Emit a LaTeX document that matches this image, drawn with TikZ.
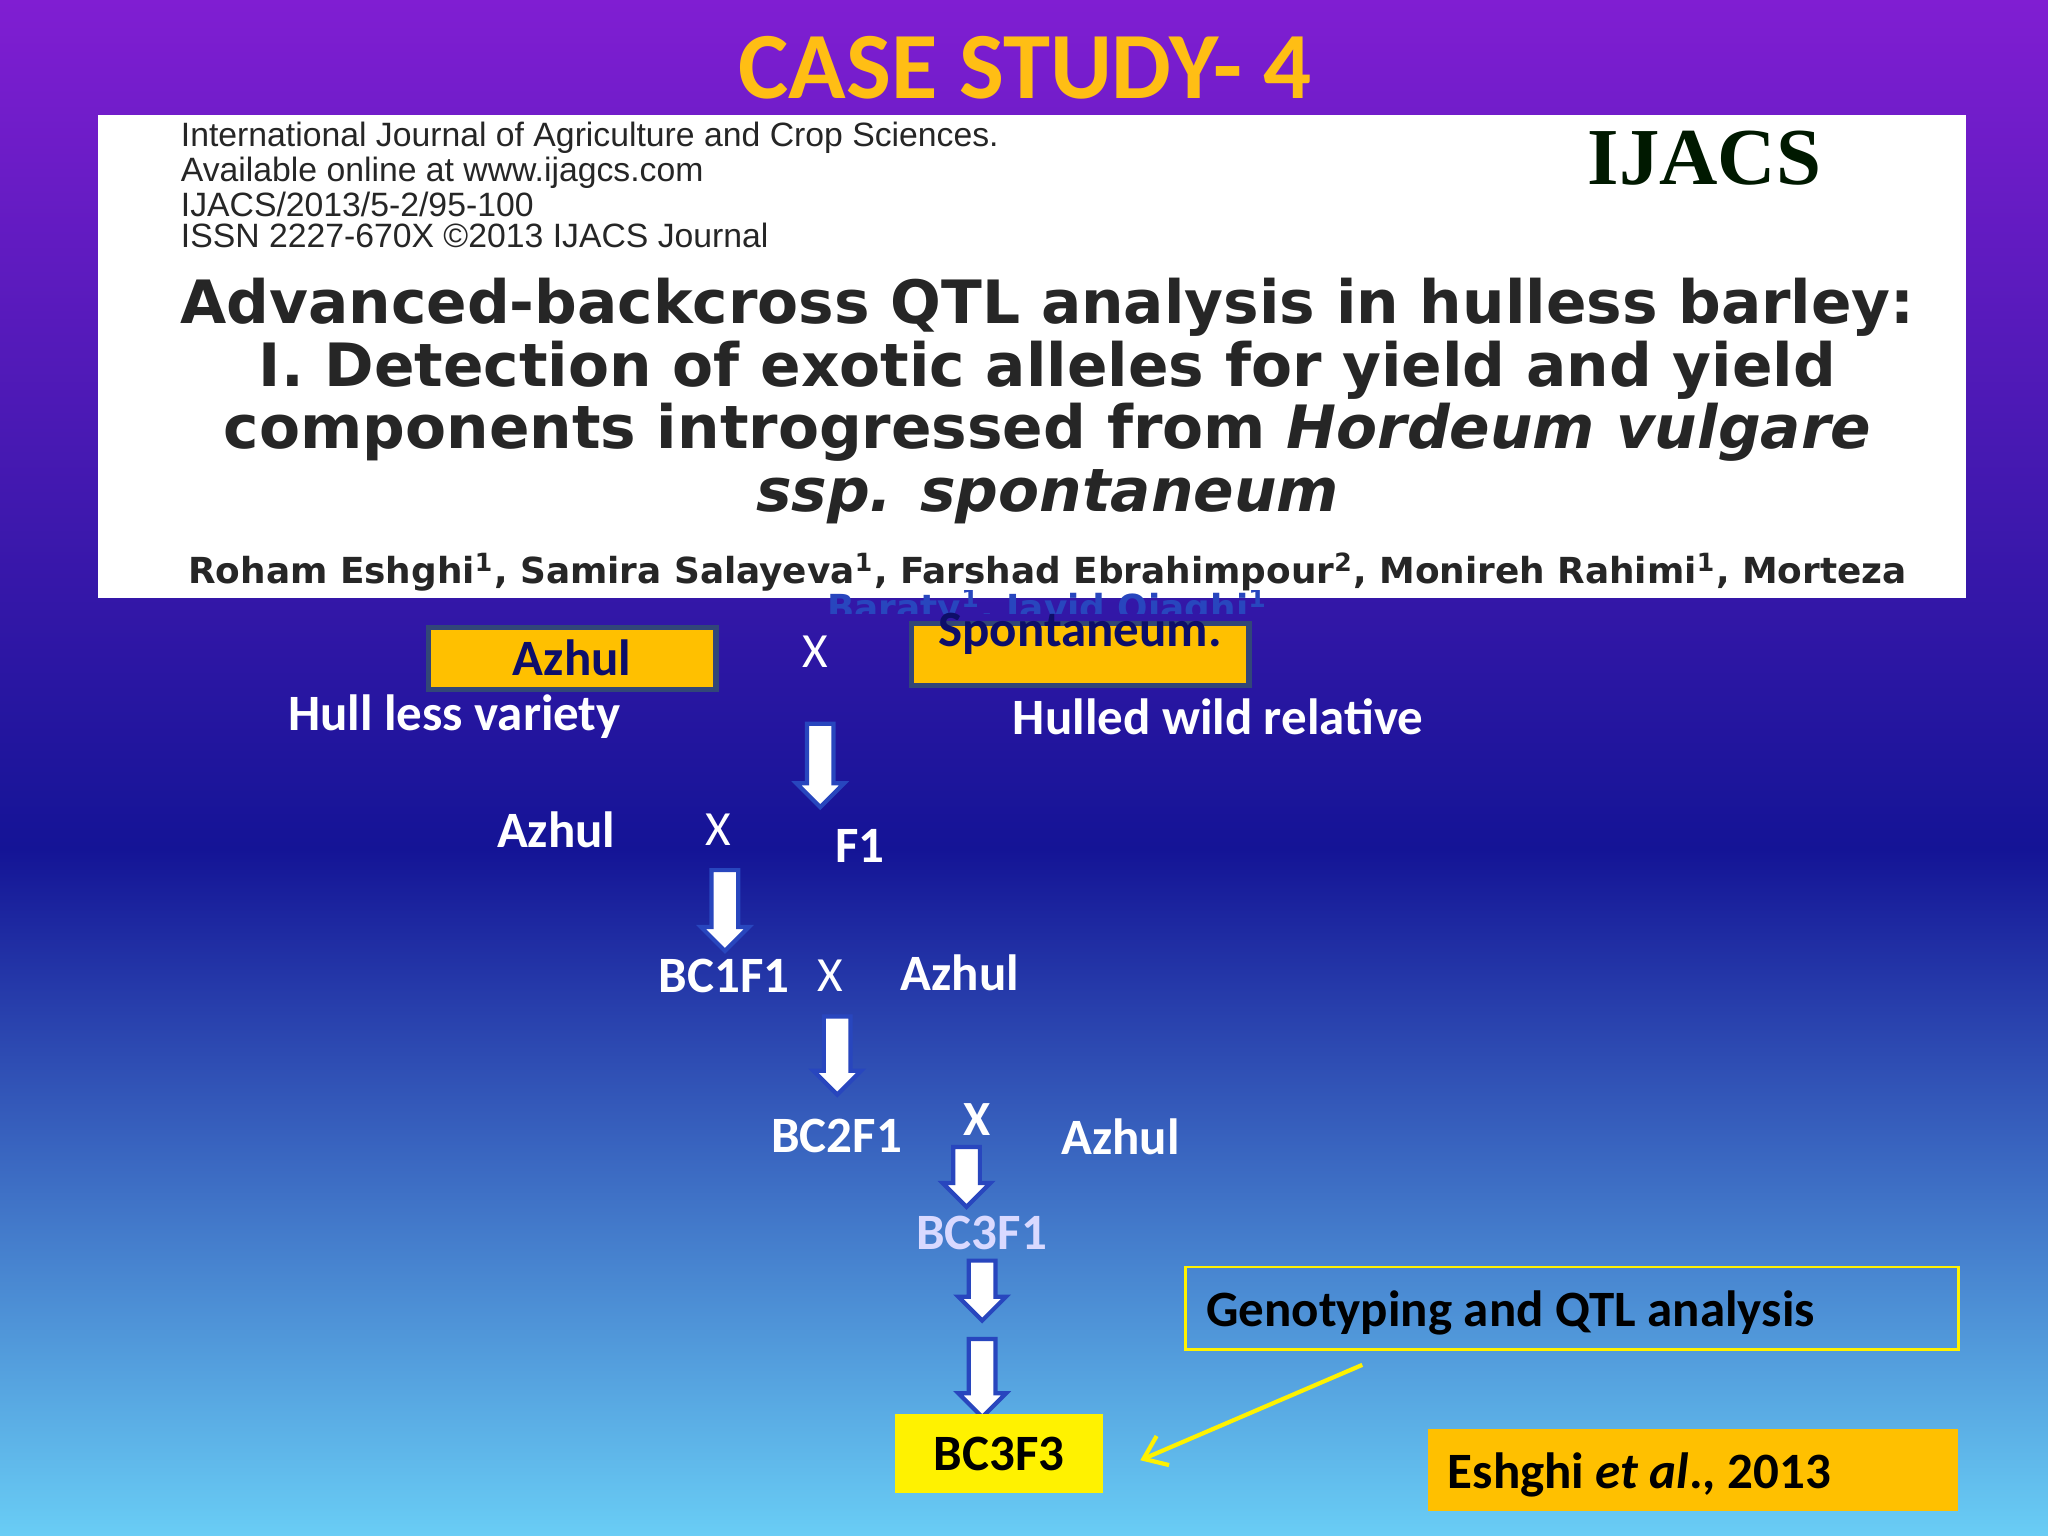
\documentclass[tikz,border=0pt]{standalone}
\usepackage{fontspec}
\setmainfont{Carlito}
\newfontfamily\paperfont{Liberation Sans}
\newfontfamily\widefont{DejaVu Sans}
\newfontfamily\serfont{Liberation Serif}
\usetikzlibrary{shapes.arrows,arrows.meta}
\definecolor{gold}{RGB}{255,192,0}
\definecolor{ttl}{RGB}{255,190,20}
\definecolor{purp}{RGB}{128,30,210}
\definecolor{dblue}{RGB}{20,20,150}
\definecolor{lblue}{RGB}{105,205,245}
\definecolor{mblue}{RGB}{40,70,190}
\definecolor{bordr}{RGB}{50,70,120}
\begin{document}
\begin{tikzpicture}[x=0.013061cm,y=-0.013061cm,
  lab/.style={text=white,font=\fontsize{14.5}{17}\selectfont\bfseries,anchor=west,inner sep=0},
  xx/.style={text=white,font=\fontsize{14}{17}\selectfont,inner sep=0},
  darr/.style={single arrow,draw=mblue,line width=1.2pt,fill=white,shape border rotate=270,
     single arrow head extend=3pt,minimum width=13pt,inner sep=3.2pt,single arrow tip angle=90},
  pap/.style={font=\paperfont\fontsize{9.6}{8.9}\selectfont,anchor=north west,align=left,inner sep=0,text=black!85}]
\useasboundingbox (0,0) rectangle (1568,1176);
\shade[top color=purp,bottom color=dblue] (0,0) rectangle (1568,650);
\shade[top color=dblue,bottom color=lblue] (0,650) rectangle (1568,1176);
% title
\node[text=ttl,font=\fontsize{27}{30}\selectfont\bfseries] (title) at (785,52) {CASE STUDY- 4};
% paper
\fill[white] (75,88) rectangle (1505,458);
\node[pap] (hdr) at (138,93) {International Journal of Agriculture and Crop Sciences.\\Available online at www.ijagcs.com\\IJACS/2013/5-2/95-100\\ISSN 2227-670X \textcopyright2013 IJACS Journal};
\node[font=\serfont\fontsize{23}{26}\selectfont\bfseries,text=black!75!green!40!black] (ijacs) at (1305,121) {IJACS};
\node[font=\widefont\fontsize{17}{17.8}\selectfont\bfseries,align=center,inner sep=0,text=black!85] (ptitle) at (802,307)
 {Advanced-backcross QTL analysis in hulless barley:\\I. Detection of exotic alleles for yield and yield\\components introgressed from \textit{Hordeum vulgare}\\\textit{ssp. spontaneum}};
\node[font=\widefont\fontsize{10.2}{11}\selectfont\bfseries,inner sep=0,text=black!85] (auth) at (802,438)
 {Roham Eshghi\textsuperscript{1}, Samira Salayeva\textsuperscript{1}, Farshad Ebrahimpour\textsuperscript{2}, Monireh Rahimi\textsuperscript{1}, Morteza};
\begin{scope}
\clip (0,452) rectangle (1568,470);
\node[font=\widefont\fontsize{10.2}{11}\selectfont\bfseries,inner sep=0,text=mblue] (auth2) at (802,466) {Baraty\textsuperscript{1}, Javid Ojaghi\textsuperscript{1}};
\end{scope}
% parents
\node[draw=bordr,line width=1.5pt,fill=gold,minimum width=221*0.3706pt,minimum height=17.6pt,inner sep=0,
  font=\fontsize{14.5}{17}\selectfont\bfseries,text=dblue!70!black] (azb) at (438,504) {Azhul};
\node[draw=bordr,line width=1.5pt,fill=gold,minimum width=96pt,minimum height=17.6pt,inner sep=0] (spb) at (827,501) {};
\node[font=\fontsize{14.5}{17}\selectfont\bfseries,text=dblue!70!black,inner sep=0] (spt) at (827,485) {Spontaneum.};
\node[xx] (x1) at (624,499) {X};
\node[lab] (hl) at (220,549) {Hull less variety};
\node[lab] (hw) at (775,549) {Hulled wild relative};
\node[darr,minimum height=64*0.3706pt] (a1) at (628,581) {};
\node[lab] (az2) at (380,635) {Azhul};
\node[xx] (x2) at (550,635) {X};
\node[lab] (f1) at (639,648) {F1};
\node[darr,minimum height=62*0.3706pt] (a2) at (555,692) {};
\node[lab] (bc1) at (504,747) {BC1F1};
\node[xx] (x3) at (636,747) {X};
\node[lab] (az3) at (689,745) {Azhul};
\node[darr,minimum height=60*0.3706pt] (a3) at (641,803) {};
\node[lab] (bc2) at (590,870) {BC2F1};
\node[xx,font=\fontsize{14}{17}\selectfont\bfseries] (x4) at (748,857) {X};
\node[lab] (az4) at (812,870) {Azhul};
\node[darr,minimum height=46*0.3706pt] (a4) at (740,896) {};
\node[lab,text=white!85!blue] (bc3) at (701,944) {BC3F1};
\node[darr,minimum height=46*0.3706pt] (a5) at (752,983) {};
\node[darr,minimum height=60*0.3706pt] (a6) at (752,1050) {};
\node[fill=yellow,minimum width=160*0.3706pt,minimum height=61*0.3706pt,inner sep=0,
  font=\fontsize{14.5}{17}\selectfont\bfseries,text=black] (bc33) at (765,1113) {BC3F3};
\node[draw=yellow,line width=0.8pt,minimum width=593*0.3706pt,minimum height=63*0.3706pt,inner sep=0] (geno) at (1203.5,1001.5) {};
\node[anchor=west,inner sep=0,font=\fontsize{14.5}{17}\selectfont\bfseries,text=black] (genot) at (923,1005) {Genotyping and QTL analysis};
\coordinate (gs) at (1043,1045);
\coordinate (ge) at (873,1118);
\draw[yellow,line width=1.2pt,-{Straight Barb[length=6pt,width=9pt]}] (gs) -- (ge);
\node[fill=gold,minimum width=407*0.3706pt,minimum height=63*0.3706pt,inner sep=0] (esb) at (1296.5,1125.5) {};
\node[anchor=west,inner sep=0,font=\fontsize{14.5}{17}\selectfont\bfseries,text=black] (est) at (1108,1129) {Eshghi \textit{et al}., 2013};
\end{tikzpicture}
\end{document}
